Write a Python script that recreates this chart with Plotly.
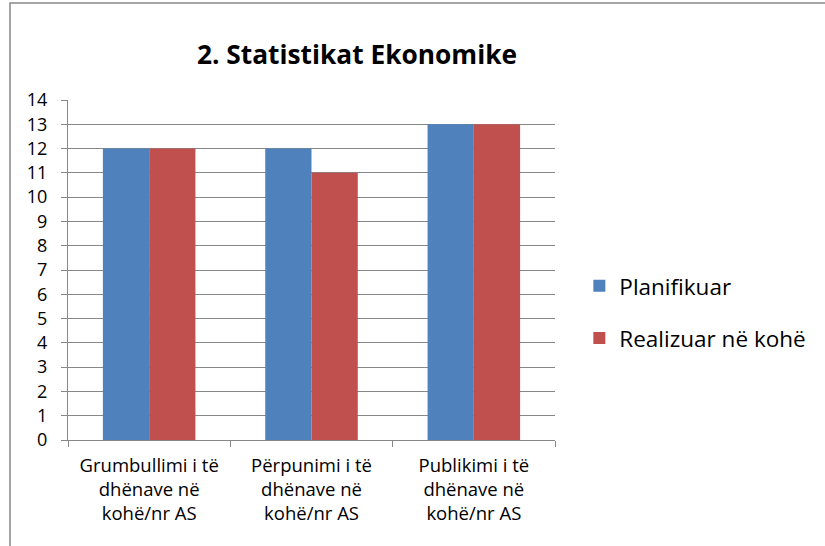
import plotly.graph_objects as go

categories = ["Grumbullimi i të<br>dhënave në<br>kohë/nr AS",
              "Përpunimi i të<br>dhënave në<br>kohë/nr AS",
              "Publikimi i të<br>dhënave në<br>kohë/nr AS"]
planifikuar = [12, 12, 13]
realizuar = [12, 11, 13]
series_names = ["Planifikuar", "Realizuar në kohë"]
title_text = "2. Statistikat Ekonomike"
y_ticks = list(range(0, 15))

FONT = "Open Sans"
GRID = "#878787"

fig = go.Figure()
fig.add_trace(go.Bar(x=categories, y=planifikuar, name=series_names[0],
                     marker=dict(color="#4F81BD", line=dict(width=0)),
                     legendgroup="a"))
fig.add_trace(go.Bar(x=categories, y=realizuar, name=series_names[1],
                     marker=dict(color="#C0504D", line=dict(width=0)),
                     legendgroup="b"))

fig.update_layout(
    width=825, height=546,
    margin=dict(l=68, r=270, t=100, b=106),
    paper_bgcolor="white", plot_bgcolor="white",
    font=dict(family=FONT, color="black", size=18),
    title=dict(text="<b>" + title_text + "</b>", x=357 / 825, xanchor="center",
               y=1 - 55 / 546, yanchor="middle", font=dict(family=FONT, size=26.3, color="black")),
    barmode="group", bargap=0.43, bargroupgap=0,
    showlegend=True,
    legend=dict(x=1.050, xanchor="left", y=0.376, yanchor="middle",
                font=dict(family=FONT, size=22.5, color="black"),
                tracegroupgap=20, bgcolor="rgba(0,0,0,0)"),
    xaxis=dict(type="category", showline=True, linecolor=GRID, linewidth=1,
               ticks="outside", tickson="boundaries", ticklen=6, tickcolor=GRID,
               showgrid=False, tickfont=dict(family=FONT, size=18.5),
               ticklabelstandoff=9),
    yaxis=dict(range=[0, 14], tickvals=y_ticks, showline=True, linecolor=GRID, linewidth=1,
               ticks="outside", ticklen=6, tickcolor=GRID,
               showgrid=True, gridcolor=GRID, gridwidth=1, zeroline=False,
               tickfont=dict(family=FONT, size=18), ticklabelstandoff=10),
    shapes=[dict(type="rect", xref="paper", yref="paper",
                 x0=(10 - 68) / 487, x1=2, y0=-1, y1=(440 - 3) / 340,
                 line=dict(color="#888888", width=1.5), layer="below")],
)

fig.write_html("out.html", config={"displayModeBar": False},
               post_script="document.body.style.margin='0';")
